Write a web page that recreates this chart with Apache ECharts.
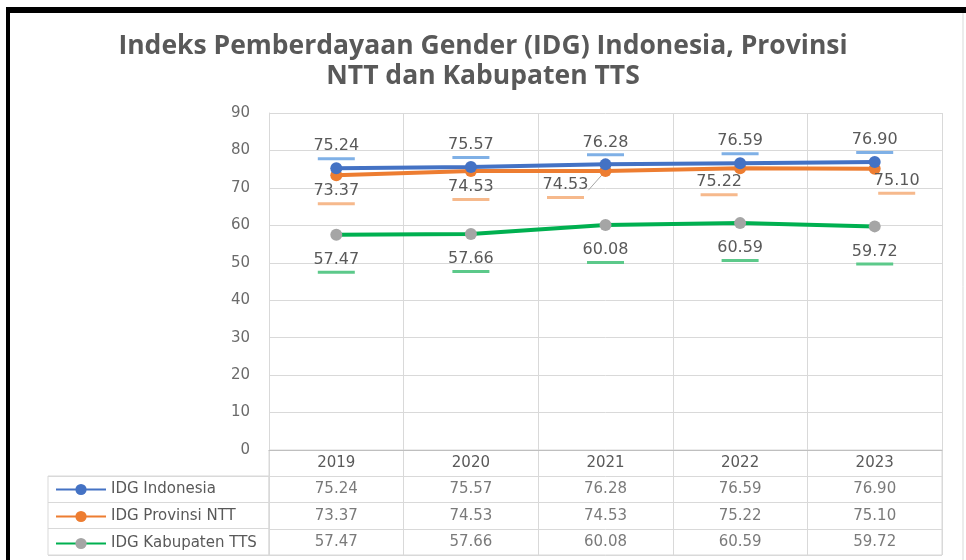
<!DOCTYPE html>
<html>
<head>
<meta charset="utf-8">
<script src="https://cdn.jsdelivr.net/npm/echarts@6/dist/echarts.min.js"></script>
<style>
  html, body { margin: 0; padding: 0; background: #fff; }
  #chart { width: 966px; height: 560px; }
</style>
</head>
<body>
<div id="chart"></div>
<script>
var years = ['2019', '2020', '2021', '2022', '2023'];
var seriesNames = ['IDG Indonesia', 'IDG Provinsi NTT', 'IDG Kabupaten TTS'];
var idgIndonesia = [75.24, 75.57, 76.28, 76.59, 76.90];
var idgNtt = [73.37, 74.53, 74.53, 75.22, 75.10];
var idgTts = [57.47, 57.66, 60.08, 60.59, 59.72];
var yTicks = [0, 10, 20, 30, 40, 50, 60, 70, 80, 90];

var chart = echarts.init(document.getElementById('chart'));

var textGray = '#595959';
var gridGray = '#d9d9d9';
var labelFont = 'DejaVu Sans';

// label with a little coloured dash under the value, like the excel screenshot
function dashLabel(dashColor, pos, dist) {
  return {
    show: true,
    position: pos,
    distance: dist,
    formatter: function (p) {
      return '{v|' + Number(p.value).toFixed(2) + '}\n{u|}';
    },
    rich: {
      v: { fontFamily: labelFont, fontSize: 16, color: textGray, lineHeight: 22, align: 'center' },
      u: { backgroundColor: dashColor, width: 37, height: 3, lineHeight: 3, align: 'center' }
    }
  };
}

// table cells
var allRows = [idgIndonesia, idgNtt, idgTts];
var tableCells = [];
allRows.forEach(function (row, r) {
  row.forEach(function (v, i) {
    tableCells.push([i, r + 1, v]);
  });
});

// NTT labels were moved by hand in the original
var nttShift = [[0, 0], [0, 0], [-40, -2], [-21, -2], [22, -4]];

var option = {
  backgroundColor: '#fff',
  animation: false,
  title: {
    text: 'Indeks Pemberdayaan Gender (IDG) Indonesia, Provinsi\nNTT dan Kabupaten TTS',
    left: 'center',
    top: 26,
    padding: [5, 5, 5, 17],
    textStyle: {
      fontFamily: 'Open Sans',
      fontWeight: 'bold',
      fontSize: 26.5,
      lineHeight: 30,
      color: textGray
    }
  },
  legend: {
    data: seriesNames,
    orient: 'vertical',
    left: 50,
    top: 477,
    height: 80,
    padding: [5, 5, 0, 5],
    itemWidth: 50,
    itemHeight: 14,
    itemGap: 12,
    textStyle: { fontFamily: labelFont, fontSize: 15, color: textGray },
    selectedMode: false
  },
  graphic: [
    { type: 'rect', shape: { x: 6, y: 7, width: 960, height: 6 }, style: { fill: '#000' } },
    { type: 'rect', shape: { x: 6, y: 7, width: 4, height: 553 }, style: { fill: '#000' } },
    { type: 'line', shape: { x1: 963, y1: 13, x2: 963, y2: 560 }, style: { stroke: gridGray, lineWidth: 1 } }
  ],
  grid: [
    { left: 269, right: 24, top: 113, bottom: 110 },
    { left: 269, right: 24, top: 450, bottom: 5, show: true, borderColor: gridGray, borderWidth: 1 },
    { left: 48, width: 221, top: 476, bottom: 5, show: true, borderColor: gridGray, borderWidth: 1 }
  ],
  xAxis: [
    {
      type: 'category',
      gridIndex: 0,
      data: years,
      boundaryGap: true,
      axisTick: { show: false },
      axisLine: { lineStyle: { color: '#bfbfbf', width: 1 } },
      axisLabel: { fontFamily: labelFont, fontSize: 15, color: textGray, margin: 6 },
      splitLine: { show: true, lineStyle: { color: gridGray, width: 1 } }
    },
    {
      type: 'category',
      gridIndex: 1,
      data: years,
      boundaryGap: true,
      axisTick: { show: false },
      axisLine: { show: false },
      axisLabel: { show: false },
      splitLine: { show: true, lineStyle: { color: gridGray, width: 1 } }
    },
    {
      type: 'value',
      gridIndex: 2,
      show: false
    }
  ],
  yAxis: [
    {
      type: 'value',
      gridIndex: 0,
      min: yTicks[0],
      max: yTicks[yTicks.length - 1],
      interval: 10,
      axisLine: { show: true, lineStyle: { color: gridGray } },
      axisTick: { show: false },
      axisLabel: { fontFamily: labelFont, fontSize: 15, color: '#6b6b6b', margin: 19 },
      splitLine: { lineStyle: { color: gridGray, width: 1 } }
    },
    {
      type: 'category',
      gridIndex: 1,
      inverse: true,
      data: [''].concat(seriesNames),
      axisLine: { show: false },
      axisTick: { show: false },
      axisLabel: { show: false },
      splitLine: { show: true, lineStyle: { color: gridGray, width: 1 } }
    },
    {
      type: 'category',
      gridIndex: 2,
      inverse: true,
      data: seriesNames,
      axisLine: { show: false },
      axisTick: { show: false },
      axisLabel: { show: false },
      splitLine: { show: true, lineStyle: { color: gridGray, width: 1 } }
    }
  ],
  series: [
    {
      name: 'IDG Indonesia',
      type: 'line',
      data: idgIndonesia,
      symbol: 'circle',
      symbolSize: 12,
      lineStyle: { color: '#4472c4', width: 4 },
      itemStyle: { color: '#4472c4' },
      label: dashLabel('#7fb0e6', 'top', 2),
      z: 4
    },
    {
      name: 'IDG Provinsi NTT',
      type: 'line',
      data: idgNtt.map(function (v, i) {
        return i === 2
          ? { value: v, labelLine: { show: true, lineStyle: { color: '#a6a6a6', width: 1 } } }
          : v;
      }),
      symbol: 'circle',
      symbolSize: 12,
      lineStyle: { color: '#ed7d31', width: 4 },
      itemStyle: { color: '#ed7d31' },
      label: dashLabel('#f6b98c', 'bottom', -1),
      labelLayout: function (p) {
        var s = nttShift[p.dataIndex];
        return { dx: s[0], dy: s[1] };
      },
      z: 3
    },
    {
      name: 'IDG Kabupaten TTS',
      type: 'line',
      data: idgTts,
      symbol: 'circle',
      symbolSize: 12,
      lineStyle: { color: '#00b050', width: 4 },
      itemStyle: { color: '#a5a5a5' },
      label: dashLabel('#5cc98a', 'bottom', 8),
      z: 3
    },
    {
      name: 'table',
      type: 'scatter',
      xAxisIndex: 1,
      yAxisIndex: 1,
      data: tableCells,
      symbolSize: 0,
      silent: true,
      label: {
        show: true,
        position: 'inside',
        fontFamily: labelFont,
        fontSize: 15,
        color: textGray,
        formatter: function (p) { return p.value[2].toFixed(2); }
      }
    }
  ]
};
chart.setOption(option);
</script>
</body>
</html>
